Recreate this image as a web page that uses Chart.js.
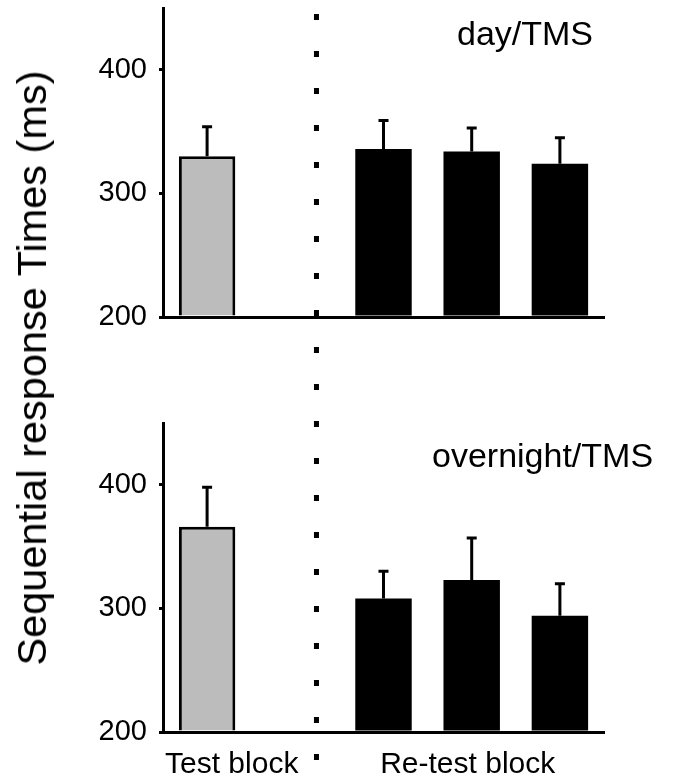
<!DOCTYPE html>
<html>
<head>
<meta charset="utf-8">
<script src="https://cdn.jsdelivr.net/npm/chart.js@4.4.1/dist/chart.umd.min.js"></script>
<style>
  body { margin: 0; background: #fff; }
  #wrap { position: relative; width: 674px; height: 775px; overflow: hidden; }
  .panel { position: absolute; left: 0; width: 674px; }
  #topPanel { top: 0; height: 345px; }
  #bottomPanel { top: 345px; height: 430px; }
  #ytitle {
    position: absolute; left: 32px; top: 368px;
    transform: translate(-50%, -50%) rotate(-90deg);
    font: 41.5px 'Liberation Sans'; white-space: nowrap; color: #000;
  }
</style>
</head>
<body>
<div id="wrap">
  <div class="panel" id="topPanel"><canvas id="dayChart"></canvas></div>
  <div class="panel" id="bottomPanel"><canvas id="nightChart"></canvas></div>
  <div id="ytitle">Sequential response Times (ms)</div>
</div>
<script>
const categories = ['Test block', '', 'Re-test 1', 'Re-test 2', 'Re-test 3'];
const dayMeans = [330, null, 336, 334, 324];
const dayErrors = [24, null, 23, 19, 21];
const nightMeans = [366, null, 308, 323, 294];
const nightErrors = [32, null, 22, 34, 26];
const yTicks = [200, 300, 400];
const yMin = 200;
const yMax = 450;
const barColors = ['#bcbcbc', '#000', '#000', '#000', '#000'];

const font = 'Liberation Sans';
const dividerAt = 1.24; // dotted line sits a bit right of the empty slot

// error bars (upper half only)
function errorBars(errors) {
  return {
    id: 'errorBars',
    afterDatasetsDraw(chart) {
      const ctx = chart.ctx;
      const y = chart.scales.y;
      const meta = chart.getDatasetMeta(0);
      const means = chart.data.datasets[0].data;
      ctx.save();
      ctx.strokeStyle = '#000';
      ctx.lineWidth = 3;
      meta.data.forEach((bar, i) => {
        if (means[i] == null || errors[i] == null) return;
        const top = y.getPixelForValue(means[i] + errors[i]);
        ctx.beginPath();
        ctx.moveTo(bar.x, bar.y);
        ctx.lineTo(bar.x, top);
        ctx.moveTo(bar.x - 5, top);
        ctx.lineTo(bar.x + 5, top);
        ctx.stroke();
      });
      ctx.restore();
    }
  };
}

// dotted separator running through both panels
function divider(offsetTop) {
  return {
    id: 'divider',
    afterDraw(chart) {
      const ctx = chart.ctx;
      const x = chart.scales.x.getPixelForValue(dividerAt);
      ctx.save();
      ctx.fillStyle = '#000';
      for (let y = 17; y < 775; y += 37) {
        const yy = y - offsetTop;
        if (yy > -4 && yy < chart.height + 4) ctx.fillRect(x - 2.5, yy - 3, 5, 6);
      }
      ctx.restore();
    }
  };
}

function texts(items) {
  return {
    id: 'texts',
    afterDraw(chart) {
      const ctx = chart.ctx;
      ctx.save();
      ctx.fillStyle = '#000';
      ctx.textBaseline = 'alphabetic';
      items.forEach(t => {
        ctx.font = t.size + 'px "' + font + '"';
        ctx.textAlign = t.align || 'left';
        const x = typeof t.x === 'function' ? t.x(chart) : t.x;
        ctx.fillText(t.text, x, t.y);
      });
      ctx.restore();
    }
  };
}

function makeConfig(means, errors, padTop, xHeight, extraPlugins) {
  return {
    type: 'bar',
    data: {
      labels: categories,
      datasets: [{
        data: means,
        base: yMin,
        backgroundColor: barColors,
        borderColor: '#000',
        borderWidth: [3, 0, 0, 0, 0],
        borderSkipped: 'start',
        barPercentage: 0.64,
        categoryPercentage: 1
      }]
    },
    options: {
      responsive: true,
      maintainAspectRatio: false,
      animation: false,
      layout: { padding: { top: padTop, right: 70, left: 0, bottom: 0 } },
      plugins: { legend: { display: false }, tooltip: { enabled: false } },
      scales: {
        x: {
          z: 1,
          grid: { display: false },
          border: { display: true, color: '#000', width: 3 },
          ticks: { display: false },
          afterFit: s => { s.height = xHeight; }
        },
        y: {
          min: yMin,
          max: yMax,
          grid: { drawOnChartArea: false, drawTicks: true, tickLength: 4, color: '#000', lineWidth: 3 },
          border: { display: true, color: '#000', width: 3 },
          ticks: { stepSize: 100, padding: 12, color: '#000', font: { family: font, size: 29 } },
          afterBuildTicks: s => { s.ticks = s.ticks.filter(t => yTicks.includes(t.value)); },
          afterFit: s => { s.width = 163; s.paddingTop = 0; s.paddingBottom = 0; }
        }
      }
    },
    plugins: [errorBars(errors)].concat(extraPlugins)
  };
}

new Chart(document.getElementById('dayChart'), makeConfig(dayMeans, dayErrors, 8, 28, [
  divider(0),
  texts([{ text: 'day/TMS', x: 457, y: 45, size: 34 }])
]));

new Chart(document.getElementById('nightChart'), makeConfig(nightMeans, nightErrors, 78, 43, [
  divider(345),
  texts([
    { text: 'overnight/TMS', x: 432, y: 467 - 345, size: 34 },
    { text: 'Test block', x: c => c.chartArea.left + 2, y: 428, size: 30 },
    { text: 'Re-test block', x: c => c.scales.x.getPixelForValue(3) - 4, y: 428, size: 30, align: 'center' }
  ])
]));
</script>
</body>
</html>
